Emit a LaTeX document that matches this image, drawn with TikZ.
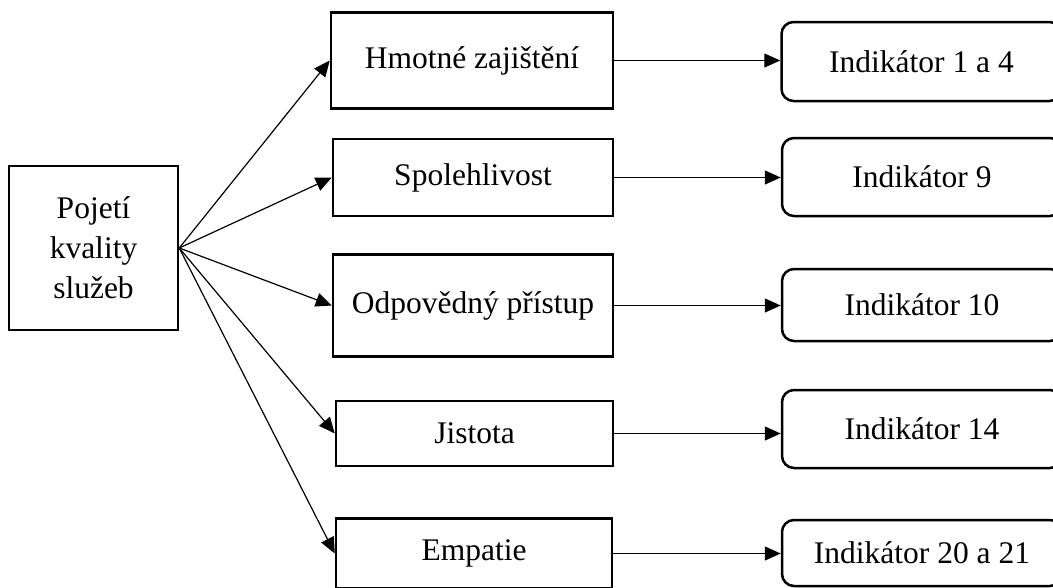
\documentclass[tikz,border=0pt]{standalone}
\usepackage{fontspec}
\setmainfont{Liberation Serif}
\usetikzlibrary{arrows.meta}

\tikzset{
    kbox/.style={draw, line width=2.5pt, inner sep=0pt, align=center},
    indbox/.style={kbox, rounded corners=12pt, minimum width=280pt},
    conn/.style={line width=1.2pt, -{Triangle[length=16pt,width=14pt]}},
}

\begin{document}
\begin{tikzpicture}[x=1pt, y=-1pt, font=\fontsize{31.5}{40}\selectfont]
        \path[use as bounding box] (0,0) rectangle (1053,587);
        \clip (0,0) rectangle (1053,587);
        \node[kbox, minimum width=169pt, minimum height=164pt] (pojeti) at (93.5,248) {Pojetí\\kvality\\služeb};
        \node[kbox, minimum width=282pt, minimum height=96pt] (hmot) at (472,60.5) {Hmotné zajištění};
        \node[kbox, minimum width=280pt, minimum height=77pt] (spol) at (473,177.5) {Spolehlivost};
        \node[kbox, minimum width=280pt, minimum height=102pt] (odpo) at (473,305.5) {Odpovědný přístup};
        \node[kbox, minimum width=277pt, minimum height=65pt] (jist) at (474.5,433.5) {Jistota};
        \node[kbox, minimum width=276pt, minimum height=70pt] (empa) at (474,553.5) {Empatie};
        \node[indbox, minimum height=79pt] (ind1) at (921.5,61.5) {Indikátor 1 a 4};
        \node[indbox, minimum height=78pt] (ind2) at (922,177) {Indikátor 9};
        \node[indbox, minimum height=72pt] (ind3) at (922,305) {Indikátor 10};
        \node[indbox, minimum height=78pt] (ind4) at (922,429) {Indikátor 14};
        \node[indbox, minimum height=66pt] (ind5) at (922,553) {Indikátor 20 a 21};
        \foreach \m in {hmot,spol,odpo,jist,empa}
            \draw[conn] (pojeti.east) -- (\m.west);
        \draw[conn] (hmot.east) -- (hmot.east -| ind1.west);
        \draw[conn] (spol.east) -- (spol.east -| ind2.west);
        \draw[conn] (odpo.east) -- (odpo.east -| ind3.west);
        \draw[conn] (jist.east) -- (jist.east -| ind4.west);
        \draw[conn] (empa.east) -- (empa.east -| ind5.west);
    \end{tikzpicture}
\end{document}
